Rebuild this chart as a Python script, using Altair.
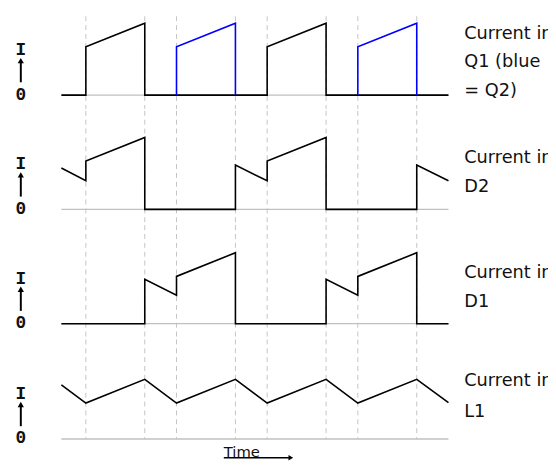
import altair as alt
import pandas as pd

# ---------------- data (time in µs, current in arbitrary units) ----------------
switch_t = [0, 6.5, 10, 16.5, 20, 26.5, 30, 36.5]
trace_span = [-2.7, 40]

q1_t = [-2.7, 0, 0, 6.5, 6.5, 20, 20, 26.5, 26.5, 40]
q1_i = [0, 0, 4.9, 7.3, 0, 0, 4.9, 7.3, 0, 0]

q2_t = [10, 10, 16.5, 16.5, 30, 30, 36.5, 36.5]
q2_i = [0, 4.9, 7.3, 0, 0, 4.9, 7.3, 0]
q2_pulse = [1, 1, 1, 1, 2, 2, 2, 2]

d2_t = [-2.7, 0, 0, 6.5, 6.5, 16.5, 16.5, 20, 20, 26.5, 26.5, 36.5, 36.5, 40]
d2_i = [4.2, 2.9, 4.9, 7.3, 0, 0, 4.5, 2.9, 4.9, 7.3, 0, 0, 4.5, 2.9]

d1_t = [-2.7, 6.5, 6.5, 10, 10, 16.5, 16.5, 26.5, 26.5, 30, 30, 36.5, 36.5, 40]
d1_i = [0, 0, 4.5, 2.9, 4.8, 7.2, 0, 0, 4.5, 2.9, 4.8, 7.2, 0, 0]

l1_t = [-2.7, 0, 6.5, 10, 16.5, 20, 26.5, 30, 36.5, 40]
l1_i = [5.5, 3.65, 6.05, 3.65, 6.05, 3.65, 6.05, 3.65, 6.05, 3.7]

panel_labels = [["Current in", "Q1 (blue", "= Q2)"],
                ["Current in", "D2"],
                ["Current in", "D1"],
                ["Current in", "L1"]]
axis_texts = ["I", "0"]
time_label = "Time"

# ---------------- layout ----------------
W = 548
X_DOMAIN = [-79 / 9.2, (W - 79) / 9.2]
LABEL_T = (471 - 87) / 9.2
IAXIS_T = (21 - 87) / 9.2
label_y = [[6.2, 3.4, 0.45], [5.2, 2.3], [5.1, 2.2], [5.9, 2.7]]
panels_geom = [  # height, ymin, ymax, dash_top, dash_bottom
    (99, -1.4, 8.5, 8.0, -1.4),
    (114, -1.4, 10.0, 10.0, -1.4),
    (114, -1.4, 10.0, 10.0, -1.4),
    (121, -2.0, 10.1, 10.1, 0.0),
]

BLACK = "#000000"
BLUE = "#0000ff"
GRID = "#c4c4c4"
BASE = "#c0c0c0"


def xenc(field="t"):
    return alt.X(f"{field}:Q", scale=alt.Scale(domain=X_DOMAIN, nice=False, zero=False), axis=None)


def trace_df(ts, vs, seg=None):
    df = pd.DataFrame({"t": ts, "i": vs, "k": list(range(len(ts)))})
    df["seg"] = seg if seg is not None else 0
    return df


def make_panel(idx, traces):
    h, ymin, ymax, dtop, dbot = panels_geom[idx]
    ysc = alt.Scale(domain=[ymin, ymax], nice=False, zero=False)

    def yenc(field):
        return alt.Y(f"{field}:Q", scale=ysc, axis=None)

    layers = []
    dash_df = pd.DataFrame({"t": switch_t, "y0": dtop, "y1": dbot})
    layers.append(alt.Chart(dash_df).mark_rule(color=GRID, strokeDash=[5, 4], strokeWidth=1)
                  .encode(x=xenc(), y=yenc("y0"), y2="y1"))
    base_df = pd.DataFrame({"t0": [trace_span[0]], "t1": [trace_span[1]], "y": [0]})
    layers.append(alt.Chart(base_df).mark_rule(color=BASE, strokeWidth=1.3)
                  .encode(x=xenc("t0"), x2="t1", y=yenc("y")))
    for df, col in traces:
        layers.append(alt.Chart(df).mark_line(color=col, strokeWidth=1.6, interpolate="linear")
                      .encode(x=xenc(), y=yenc("i"), order="k:Q", detail="seg:N"))
    ia_df = pd.DataFrame({"t": [IAXIS_T, IAXIS_T], "y": [4.55, 0.05], "s": axis_texts})
    layers.append(alt.Chart(ia_df).mark_text(font="Liberation Mono", fontWeight="bold", fontSize=18,
                                             align="center", baseline="middle", color="#111111")
                  .encode(x=xenc(), y=yenc("y"), text="s:N"))
    arr_df = pd.DataFrame({"t": [IAXIS_T], "y0": [1.3], "y1": [3.3]})
    layers.append(alt.Chart(arr_df).mark_rule(color=BLACK, strokeWidth=2)
                  .encode(x=xenc(), y=yenc("y0"), y2="y1"))
    head_df = pd.DataFrame({"t": [IAXIS_T], "y": [3.5]})
    layers.append(alt.Chart(head_df).mark_point(shape="triangle-up", filled=True, size=40,
                                                color=BLACK, opacity=1)
                  .encode(x=xenc(), y=yenc("y")))
    lab_df = pd.DataFrame({"t": LABEL_T, "y": label_y[idx], "s": panel_labels[idx]})
    layers.append(alt.Chart(lab_df).mark_text(font="DejaVu Sans", fontSize=18, align="left",
                                              baseline="middle", color="#111111", clip=True)
                  .encode(x=xenc(), y=yenc("y"), text="s:N"))
    if idx == 3:
        tl_df = pd.DataFrame({"t": [(227 - 87) / 9.2], "y": [-1.3], "s": [time_label]})
        layers.append(alt.Chart(tl_df).mark_text(font="DejaVu Sans", fontSize=15, align="left",
                                                 baseline="middle", color="#111111")
                      .encode(x=xenc(), y=yenc("y"), text="s:N"))
        ul_df = pd.DataFrame({"t0": [(227 - 87) / 9.2], "t1": [(294 - 87) / 9.2], "y": [-1.9]})
        layers.append(alt.Chart(ul_df).mark_rule(color=BLACK, strokeWidth=1.6)
                      .encode(x=xenc("t0"), x2="t1", y=yenc("y")))
        ah_df = pd.DataFrame({"t": [(295 - 87) / 9.2], "y": [-1.9]})
        layers.append(alt.Chart(ah_df).mark_point(shape="triangle-right", filled=True, size=30,
                                                  color=BLACK, opacity=1)
                      .encode(x=xenc(), y=yenc("y")))
    return alt.layer(*layers).properties(width=W, height=h)


p1 = make_panel(0, [(trace_df(q1_t, q1_i), BLACK), (trace_df(q2_t, q2_i, q2_pulse), BLUE)])
p2 = make_panel(1, [(trace_df(d2_t, d2_i), BLACK)])
p3 = make_panel(2, [(trace_df(d1_t, d1_i), BLACK)])
p4 = make_panel(3, [(trace_df(l1_t, l1_i), BLACK)])

chart = (alt.vconcat(p1, p2, p3, p4, spacing=0)
         .properties(padding=0, background="white")
         .configure_view(stroke=None)
         .configure_concat(spacing=0))

chart.save("out.html", embed_options={"renderer": "svg", "actions": False})
